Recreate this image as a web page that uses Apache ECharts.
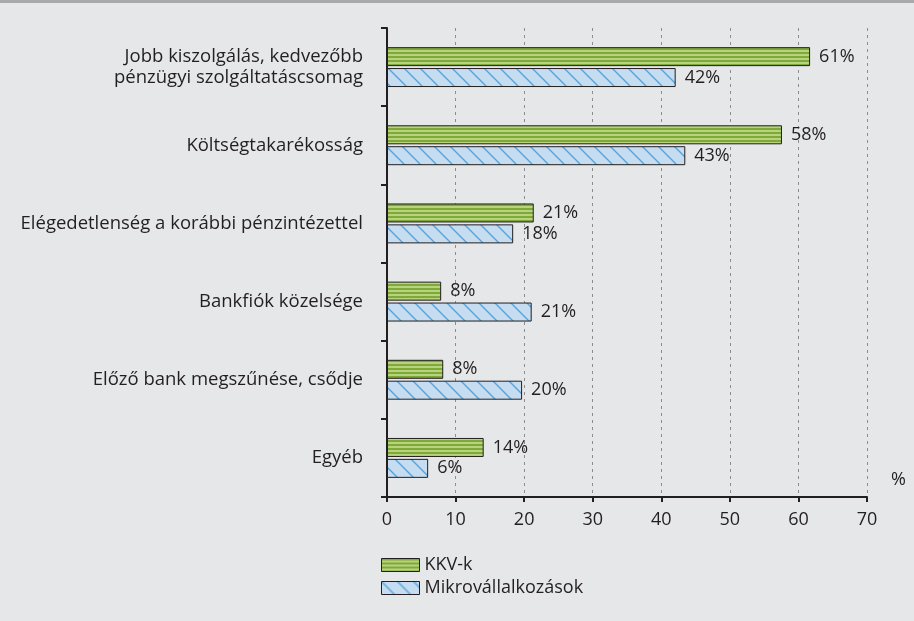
<!DOCTYPE html>
<html>
<head>
<meta charset="utf-8">
<script src="https://cdn.jsdelivr.net/npm/echarts@6/dist/echarts.min.js"></script>
<style>
  html, body { margin: 0; padding: 0; background: #e6e7e8; }
  #chart { width: 914px; height: 621px; }
</style>
</head>
<body>
<div id="chart"></div>
<script>
  var categories = [
    'Jobb kiszolgálás, kedvezőbb\npénzügyi szolgáltatáscsomag',
    'Költségtakarékosság',
    'Elégedetlenség a korábbi pénzintézettel',
    'Bankfiók közelsége',
    'Előző bank megszűnése, csődje',
    'Egyéb'
  ];
  var kkvValues = [61.7, 57.6, 21.4, 7.9, 8.2, 14.1];
  var kkvLabels = ['61%', '58%', '21%', '8%', '8%', '14%'];
  var mikroValues = [42.1, 43.5, 18.4, 21.1, 19.7, 6.0];
  var mikroLabels = ['42%', '43%', '18%', '21%', '20%', '6%'];

  // csíkos zöld minta
  function greenPattern() {
    var c = document.createElement('canvas');
    c.width = 8; c.height = 4;
    var ctx = c.getContext('2d');
    ctx.fillStyle = '#b7d37c';
    ctx.fillRect(0, 0, 8, 4);
    ctx.fillStyle = '#7fa83a';
    ctx.fillRect(0, 0, 8, 2);
    return c;
  }
  // ferdén vonalkázott kék minta
  function bluePattern() {
    var c = document.createElement('canvas');
    c.width = 16; c.height = 16;
    var ctx = c.getContext('2d');
    ctx.fillStyle = '#c6dcf1';
    ctx.fillRect(0, 0, 16, 16);
    ctx.strokeStyle = '#5aa3d8';
    ctx.lineWidth = 1.4;
    ctx.beginPath();
    ctx.moveTo(-2, -2); ctx.lineTo(18, 18);
    ctx.moveTo(-18, -2); ctx.lineTo(2, 18);
    ctx.moveTo(14, -2); ctx.lineTo(34, 18);
    ctx.stroke();
    return c;
  }

  var font = '"Open Sans", "Noto Sans", sans-serif';
  var chart = echarts.init(document.getElementById('chart'));
  chart.setOption({
    backgroundColor: '#e6e7e8',
    animation: false,
    textStyle: { fontFamily: font, color: '#231f20' },
    graphic: [
      { type: 'rect', left: 0, top: 0, shape: { width: 914, height: 3 }, style: { fill: '#a7a9ac' } },
      { type: 'text', left: 891, top: 471, style: { text: '%', font: '18px ' + font, fill: '#231f20' } }
    ],
    legend: {
      orient: 'vertical',
      left: 376,
      top: 551,
      icon: 'rect',
      itemWidth: 38,
      itemHeight: 13,
      itemGap: 5,
      itemStyle: { borderWidth: 1, borderColor: '#231f20' },
      textStyle: { fontSize: 18, color: '#231f20', fontFamily: font },
      data: ['KKV-k', 'Mikrovállalkozások']
    },
    grid: { left: 387, right: 47, top: 28, bottom: 124 },
    xAxis: {
      type: 'value',
      min: 0, max: 70, interval: 10,
      axisLine: { show: true, lineStyle: { color: '#231f20', width: 2 } },
      axisTick: { show: true, length: 5, lineStyle: { color: '#231f20', width: 2 } },
      axisLabel: { fontSize: 18, color: '#231f20', margin: 14, fontFamily: font },
      splitLine: { show: true, lineStyle: { color: '#8a8c8e', type: [3, 4], width: 1 } }
    },
    yAxis: {
      type: 'category',
      inverse: true,
      data: categories,
      axisLine: { show: true, lineStyle: { color: '#231f20', width: 2 } },
      axisTick: { show: true, length: 6, lineStyle: { color: '#231f20', width: 2 } },
      axisLabel: { fontSize: 18.5, color: '#231f20', margin: 24, lineHeight: 21, align: 'right', fontFamily: font }
    },
    series: [
      {
        name: 'KKV-k',
        type: 'bar',
        data: kkvValues,
        barWidth: 19,
        barGap: '10%',
        itemStyle: { color: { image: greenPattern(), repeat: 'repeat' }, borderColor: '#231f20', borderWidth: 1 },
        label: { show: true, position: 'right', distance: 9, fontSize: 18, color: '#231f20', fontFamily: font,
          formatter: function (p) { return kkvLabels[p.dataIndex]; } }
      },
      {
        name: 'Mikrovállalkozások',
        type: 'bar',
        data: mikroValues,
        barWidth: 19,
        itemStyle: { color: { image: bluePattern(), repeat: 'repeat' }, borderColor: '#231f20', borderWidth: 1 },
        label: { show: true, position: 'right', distance: 9, fontSize: 18, color: '#231f20', fontFamily: font,
          formatter: function (p) { return mikroLabels[p.dataIndex]; } }
      }
    ]
  });
</script>
</body>
</html>
